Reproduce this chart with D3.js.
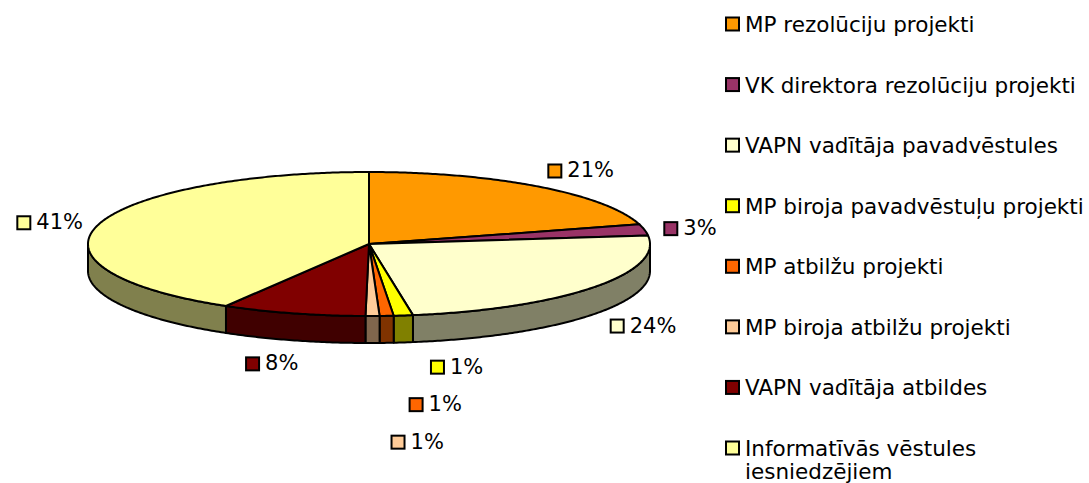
<!DOCTYPE html>
<html>
<head>
<meta charset="utf-8" />
<title>Pie</title>
<style type="text/css">
    body { margin: 0; background: #fff; }
    svg { display: block; }
    text { font-family: "DejaVu Sans", Verdana, sans-serif; fill: #000; }
    .pct { font-size: 21px; }
    .leg { font-size: 21.5px; }
</style>
<script type="text/javascript" src="https://d3js.org/d3.v7.min.js"></script>
</head>
<body>
<div id="chart"></div>
<script type="text/javascript">
    // data
    var categories = [
        "MP rezolūciju projekti",
        "VK direktora rezolūciju projekti",
        "VAPN vadītāja pavadvēstules",
        "MP biroja pavadvēstuļu projekti",
        "MP atbilžu projekti",
        "MP biroja atbilžu projekti",
        "VAPN vadītāja atbildes",
        "Informatīvās vēstules iesniedzējiem"
    ];
    var shares = [20.6, 2.5, 24.4, 1.1, 0.8, 0.8, 8.3, 41.5];
    var pctLabels = ["21%", "3%", "24%", "1%", "1%", "1%", "8%", "41%"];
    var colors = ["#FF9900", "#993366", "#FFFFCC", "#FFFF00", "#FF6600", "#FFCC99", "#800000", "#FFFF99"];

    var width = 1089, height = 483;
    var cx = 369, cy = 244, rx = 281, ry = 72, depth = 27;

    var svg = d3.select("#chart").append("svg")
        .attr("width", width).attr("height", height);

    var pie = d3.pie().sort(null).value(function (d) { return d; });
    var arcs = pie(shares);

    function pt(a, ex, ey) {
        return [cx + (rx + (ex || 0)) * Math.sin(a), cy - (ry + (ey || 0)) * Math.cos(a)];
    }
    function arcPoints(a0, a1, dy) {
        var n = Math.max(2, Math.ceil((a1 - a0) / 0.01));
        var pts = [];
        for (var i = 0; i <= n; i++) {
            var p = pt(a0 + (a1 - a0) * i / n);
            pts.push([p[0], p[1] + dy]);
        }
        return pts;
    }
    var line = d3.line();

    function half(c) {
        var r = d3.rgb(c);
        return d3.rgb(r.r * 0.5, r.g * 0.5, r.b * 0.5).formatHex();
    }

    // side walls (front half only)
    var sides = svg.append("g");
    arcs.forEach(function (d, i) {
        var s = Math.max(d.startAngle, Math.PI / 2),
            e = Math.min(d.endAngle, Math.PI * 1.5);
        if (e <= s) return;
        var top = arcPoints(s, e, 0);
        var bot = arcPoints(s, e, depth).reverse();
        sides.append("path")
            .attr("d", line(top.concat(bot)) + "Z")
            .attr("fill", half(colors[i]))
            .attr("stroke", "#000")
            .attr("stroke-width", 2)
            .attr("stroke-linejoin", "round");
    });

    // top faces
    var tops = svg.append("g");
    arcs.forEach(function (d, i) {
        var pts = [[cx, cy]].concat(arcPoints(d.startAngle, d.endAngle, 0));
        tops.append("path")
            .attr("d", line(pts) + "Z")
            .attr("fill", colors[i])
            .attr("stroke", "#000")
            .attr("stroke-width", 2)
            .attr("stroke-linejoin", "round");
    });

    // data labels, centred outside the rim
    var sq = 13, gap = 6, lblH = 22, step = 37.5;
    var lbls = svg.append("g");
    var boxes = arcs.map(function (d, i) {
        var m = (d.startAngle + d.endAngle) / 2;
        var c = Math.abs(Math.cos(m));
        var p = pt(m, 39 + 40 * c, 8 + 16 * c);
        if (Math.cos(m) < 0) p[1] += depth;
        var t = lbls.append("text").attr("class", "pct").text(pctLabels[i]);
        var w = sq + 2 + gap + t.node().getComputedTextLength();
        return { t: t, p: p, w: w, x: p[0] - w / 2, y: p[1] - lblH / 2 };
    });
    function hit(a, b) {
        return a.x < b.x + b.w && b.x < a.x + a.w && a.y < b.y + lblH && b.y < a.y + lblH;
    }
    // stack clusters of colliding neighbours
    for (var i = 0; i < boxes.length; i++) {
        var j = i;
        while (j + 1 < boxes.length && hit(boxes[j], boxes[j + 1])) j++;
        if (j > i) {
            for (var k = i; k <= j; k++) {
                boxes[k].x = boxes[k].p[0] + 17;
                boxes[k].y = boxes[i].y + (k - i) * step;
            }
            i = j;
        }
    }
    boxes.forEach(function (b, i) {
        var yc = b.y + lblH / 2;
        lbls.append("rect")
            .attr("x", b.x + 1).attr("y", yc - sq / 2 + 1)
            .attr("width", sq).attr("height", sq)
            .attr("fill", colors[i]).attr("stroke", "#000").attr("stroke-width", 2);
        b.t.attr("x", b.x + sq + 2 + gap - 1).attr("y", yc + 7.5);
    });

    // legend
    var ly = d3.scalePoint().domain(categories).range([24, 448]);
    var leg = svg.append("g");
    var wrapW = width - 745;
    categories.forEach(function (c, i) {
        var y = ly(c);
        leg.append("rect")
            .attr("x", 726).attr("y", y - 6.5)
            .attr("width", 13).attr("height", 13)
            .attr("fill", colors[i]).attr("stroke", "#000").attr("stroke-width", 2);
        var t = leg.append("text").attr("class", "leg").attr("x", 745).attr("y", y + 8).text(c);
        if (t.node().getComputedTextLength() > wrapW) {
            var words = c.split(" ");
            t.text(words.slice(0, -1).join(" "));
            leg.append("text").attr("class", "leg").attr("x", 745).attr("y", y + 31)
                .text(words[words.length - 1]);
        }
    });
</script>
</body>
</html>
